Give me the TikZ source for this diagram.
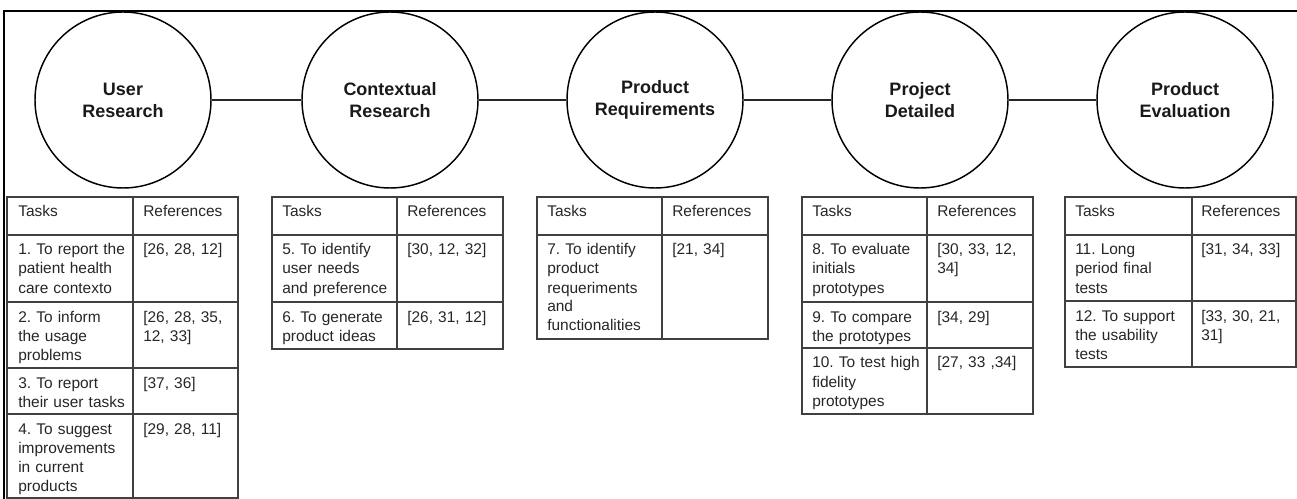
\documentclass[tikz,border=0pt]{standalone}
\usepackage{fontspec}
\setmainfont{Liberation Sans}
\usepackage{tikz}
\usetikzlibrary{shapes.geometric, positioning, calc}
\frenchspacing
\newcommand\cellfont{\fontsize{11.6}{14.25}\selectfont}
\newcommand\phasefont{\bfseries\fontsize{13.5}{16.5}\selectfont}
\tikzset{
  phase/.style={circle, draw=black, line width=1.1pt, minimum size=132pt, inner sep=0pt, align=center, font=\phasefont, text=black!90},
  link/.style={line width=1.6pt, draw=black!85},
  cell/.style={draw=black!75, line width=1.1pt},
  celltext/.style={anchor=base west, inner sep=0pt, text width=88pt, align=left, font=\cellfont, text=black!85},
  frame/.style={draw=black, line width=0.9pt}
}
\begin{document}
\begin{tikzpicture}[x=0.75pt, y=-0.75pt]
    \useasboundingbox (0,0) rectangle (1297,499);
    % Marco exterior (solo arriba y a la izquierda)
    \draw[frame] (4,499) -- (4,11) -- (1297,11);

    % Las cinco fases
    \node[phase] (ur) at (123,100) {User\\Research};
    \node[phase] (cr) at (390,100) {Contextual\\Research};
    \node[phase] (pr) at (655,100) {Product\\Requirements};
    \node[phase] (pd) at (920,100) {Project\\Detailed};
    \node[phase] (pe) at (1185,100) {Product\\Evaluation};

    % Lineas entre fases
    \draw[link] (ur) -- (cr);
    \draw[link] (cr) -- (pr);
    \draw[link] (pr) -- (pd);
    \draw[link] (pd) -- (pe);

    % Tabla 1: User Research
    \foreach \ya/\yb/\task/\refs [count=\i] in {
        197/235/{Tasks}/{References},
        235/302/{1. To report the\\patient health\\care contexto}/{[26, 28, 12]},
        302/368/{2. To inform\\the usage\\problems}/{[26, 28, 35,\\12, 33]},
        368/414/{3. To report\\their user tasks}/{[37, 36]},
        414/498/{4. To suggest\\improvements\\in current\\products}/{[29, 28, 11]}} {
        \draw[cell] (7,\ya) rectangle (133,\yb);
        \draw[cell] (133,\ya) rectangle (238,\yb);
        \node[celltext] (ur-task-\i) at (18,\ya+20) {\task};
        \node[celltext] (ur-ref-\i) at (143,\ya+20) {\refs};
    }

    % Tabla 2: Contextual Research
    \foreach \ya/\yb/\task/\refs [count=\i] in {
        197/235/{Tasks}/{References},
        235/302/{5. To identify\\user needs\\and preference}/{[30, 12, 32]},
        302/349/{6. To generate\\product ideas}/{[26, 31, 12]}} {
        \draw[cell] (272,\ya) rectangle (397,\yb);
        \draw[cell] (397,\ya) rectangle (503,\yb);
        \node[celltext] (cr-task-\i) at (282,\ya+20) {\task};
        \node[celltext] (cr-ref-\i) at (407,\ya+20) {\refs};
    }

    % Tabla 3: Product Requirements
    \foreach \ya/\yb/\task/\refs [count=\i] in {
        197/235/{Tasks}/{References},
        235/339/{7. To identify\\product\\requeriments\\and\\functionalities}/{[21, 34]}} {
        \draw[cell] (537,\ya) rectangle (662,\yb);
        \draw[cell] (662,\ya) rectangle (768,\yb);
        \node[celltext] (pr-task-\i) at (547,\ya+20) {\task};
        \node[celltext] (pr-ref-\i) at (672,\ya+20) {\refs};
    }

    % Tabla 4: Project Detailed
    \foreach \ya/\yb/\task/\refs [count=\i] in {
        197/235/{Tasks}/{References},
        235/302/{8. To evaluate\\initials\\prototypes}/{[30, 33, 12,\\34]},
        302/348/{9. To compare\\the prototypes}/{[34, 29]},
        348/414/{10. To test high\\fidelity\\prototypes}/{[27, 33 ,34]}} {
        \draw[cell] (802,\ya) rectangle (927,\yb);
        \draw[cell] (927,\ya) rectangle (1033,\yb);
        \node[celltext] (pd-task-\i) at (812,\ya+20) {\task};
        \node[celltext] (pd-ref-\i) at (937,\ya+20) {\refs};
    }

    % Tabla 5: Product Evaluation
    \foreach \ya/\yb/\task/\refs [count=\i] in {
        197/235/{Tasks}/{References},
        235/301/{11. Long\\period final\\tests}/{[31, 34, 33]},
        301/367/{12. To support\\the usability\\tests}/{[33, 30, 21,\\31]}} {
        \draw[cell] (1065,\ya) rectangle (1192,\yb);
        \draw[cell] (1192,\ya) rectangle (1296,\yb);
        \node[celltext] (pe-task-\i) at (1075,\ya+20) {\task};
        \node[celltext] (pe-ref-\i) at (1201,\ya+20) {\refs};
    }
\end{tikzpicture}
\end{document}
